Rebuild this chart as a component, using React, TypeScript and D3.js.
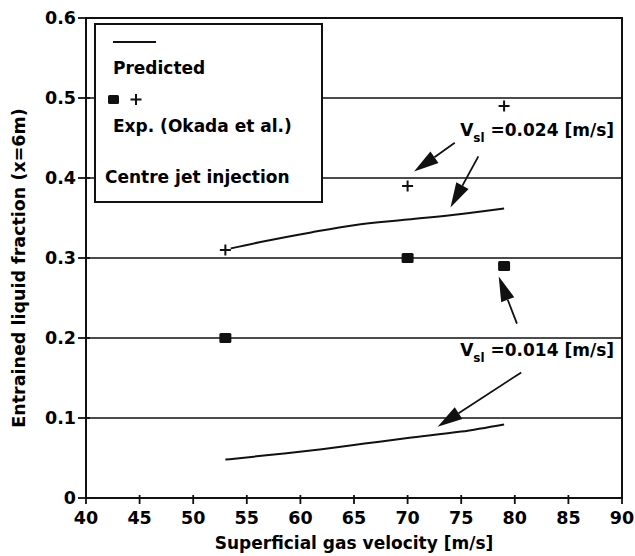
import React from 'react'
import * as d3 from 'd3'

// data
const xTicks = [40, 45, 50, 55, 60, 65, 70, 75, 80, 85, 90]
const yTicks = [0, 0.1, 0.2, 0.3, 0.4, 0.5, 0.6]
const yTickLabels = ['0', '0.1', '0.2', '0.3', '0.4', '0.5', '0.6']

// predicted curves [gas velocity, entrained fraction]
const predicted024 = [[53.5, 0.312], [57, 0.322], [61, 0.332], [65, 0.341], [70, 0.348], [75, 0.355], [79, 0.362]]
const predicted014 = [[53, 0.048], [58, 0.055], [62, 0.061], [66, 0.068], [70, 0.075], [75, 0.083], [79, 0.092]]

// experimental points (Okada et al.)
const expPlus = [[53, 0.31], [70, 0.39], [79, 0.49]]
const expSquare = [[53, 0.2], [70, 0.3], [79, 0.29]]

// annotation arrows, [fromX, fromY, tipX, tipY] in data units
const arrows = [
  [74.4, 0.444, 70.6, 0.408],
  [76.6, 0.427, 74.0, 0.363],
  [80.2, 0.218, 78.5, 0.277],
  [80.6, 0.157, 72.8, 0.089],
]
const labels = [
  { x: 74.9, y: 0.452, value: '0.024' },
  { x: 74.9, y: 0.177, value: '0.014' },
]

const W = 635
const H = 556
const left = 86
const right = 622
const top = 18
const bottom = 498
const font = 'DejaVu Sans, sans-serif'

export default function App() {
  const x = d3.scaleLinear().domain([40, 90]).range([left, right])
  const y = d3.scaleLinear().domain([0, 0.6]).range([bottom, top])
  const line = d3.line<number[]>().x(d => x(d[0])).y(d => y(d[1])).curve(d3.curveMonotoneX)

  const arrowShape = (a: number[]) => {
    const x0 = x(a[0]), y0 = y(a[1]), x1 = x(a[2]), y1 = y(a[3])
    const dx = x1 - x0, dy = y1 - y0
    const len = Math.sqrt(dx * dx + dy * dy)
    const ux = dx / len, uy = dy / len
    const headLen = 25, headW = 7
    const bx = x1 - ux * headLen, by = y1 - uy * headLen
    const pts = [
      [x1, y1],
      [bx - uy * headW, by + ux * headW],
      [bx + uy * headW, by - ux * headW],
    ]
    return { x0, y0, bx, by, pts: pts.map(p => p.join(',')).join(' ') }
  }

  return (
    <svg width={W} height={H} style={{ position: 'absolute', left: 0, top: 0 }}
      fontFamily={font} fontWeight="bold">
      <rect width={W} height={H} fill="#fff" />

      {/* grid lines */}
      {yTicks.slice(1, -1).map(t => (
        <line key={t} x1={left} x2={right} y1={y(t)} y2={y(t)} stroke="#111" strokeWidth={1.6} />
      ))}

      {/* legend box */}
      <rect x={95} y={24} width={227} height={178} fill="#fff" stroke="#111" strokeWidth={2} />
      <line x1={113} x2={156} y1={42} y2={42} stroke="#111" strokeWidth={2} />
      <text x={113} y={74} fontSize={17}>Predicted</text>
      <rect x={108} y={95} width={11} height={9} rx={1.5} fill="#111" />
      <path d="M130.5,99.5h11M136,94v11" stroke="#111" strokeWidth={2} />
      <text x={113} y={132} fontSize={17}>Exp. (Okada et al.)</text>
      <text x={105} y={183} fontSize={17}>Centre jet injection</text>

      {/* predicted lines */}
      <path d={line(predicted024) || ''} fill="none" stroke="#111" strokeWidth={2} />
      <path d={line(predicted014) || ''} fill="none" stroke="#111" strokeWidth={2} />

      {/* experimental points */}
      {expPlus.map((d, i) => (
        <path key={'p' + i}
          d={`M${x(d[0]) - 5.5},${y(d[1])}h11M${x(d[0])},${y(d[1]) - 5.5}v11`}
          stroke="#111" strokeWidth={2} />
      ))}
      {expSquare.map((d, i) => (
        <rect key={'s' + i} x={x(d[0]) - 6} y={y(d[1]) - 5} width={12} height={10} rx={1.5} fill="#111" />
      ))}

      {/* annotation arrows */}
      {arrows.map((a, i) => {
        const s = arrowShape(a)
        return (
          <g key={'a' + i}>
            <line x1={s.x0} y1={s.y0} x2={s.bx} y2={s.by} stroke="#111" strokeWidth={1.8} />
            <polygon points={s.pts} fill="#111" />
          </g>
        )
      })}
      {labels.map((l, i) => (
        <text key={'l' + i} x={x(l.x)} y={y(l.y)} fontSize={17}>
          V<tspan fontSize={12} dy={6}>sl</tspan><tspan dy={-6}> ={l.value} [m/s]</tspan>
        </text>
      ))}

      {/* frame */}
      <rect x={left} y={top} width={right - left} height={bottom - top} fill="none" stroke="#111" strokeWidth={2} />

      {/* x axis ticks */}
      {xTicks.map(t => (
        <g key={'x' + t}>
          <line x1={x(t)} x2={x(t)} y1={bottom - 3} y2={bottom + 6} stroke="#111" strokeWidth={1.8} />
          <text x={x(t)} y={524} fontSize={17.5} textAnchor="middle">{t}</text>
        </g>
      ))}
      {/* y axis ticks */}
      {yTicks.map((t, i) => (
        <g key={'y' + t}>
          <line x1={left - 8} x2={left + 4} y1={y(t)} y2={y(t)} stroke="#111" strokeWidth={1.8} />
          <text x={left - 10} y={y(t) + 6} fontSize={17.5} textAnchor="end">{yTickLabels[i]}</text>
        </g>
      ))}

      <text x={(left + right) / 2} y={549} fontSize={17} textAnchor="middle">Superficial gas velocity [m/s]</text>
      <text transform={`translate(25,${(top + bottom) / 2 + 10}) rotate(-90)`} fontSize={17.5} textAnchor="middle">
        Entrained liquid fraction (x=6m)
      </text>
    </svg>
  )
}
